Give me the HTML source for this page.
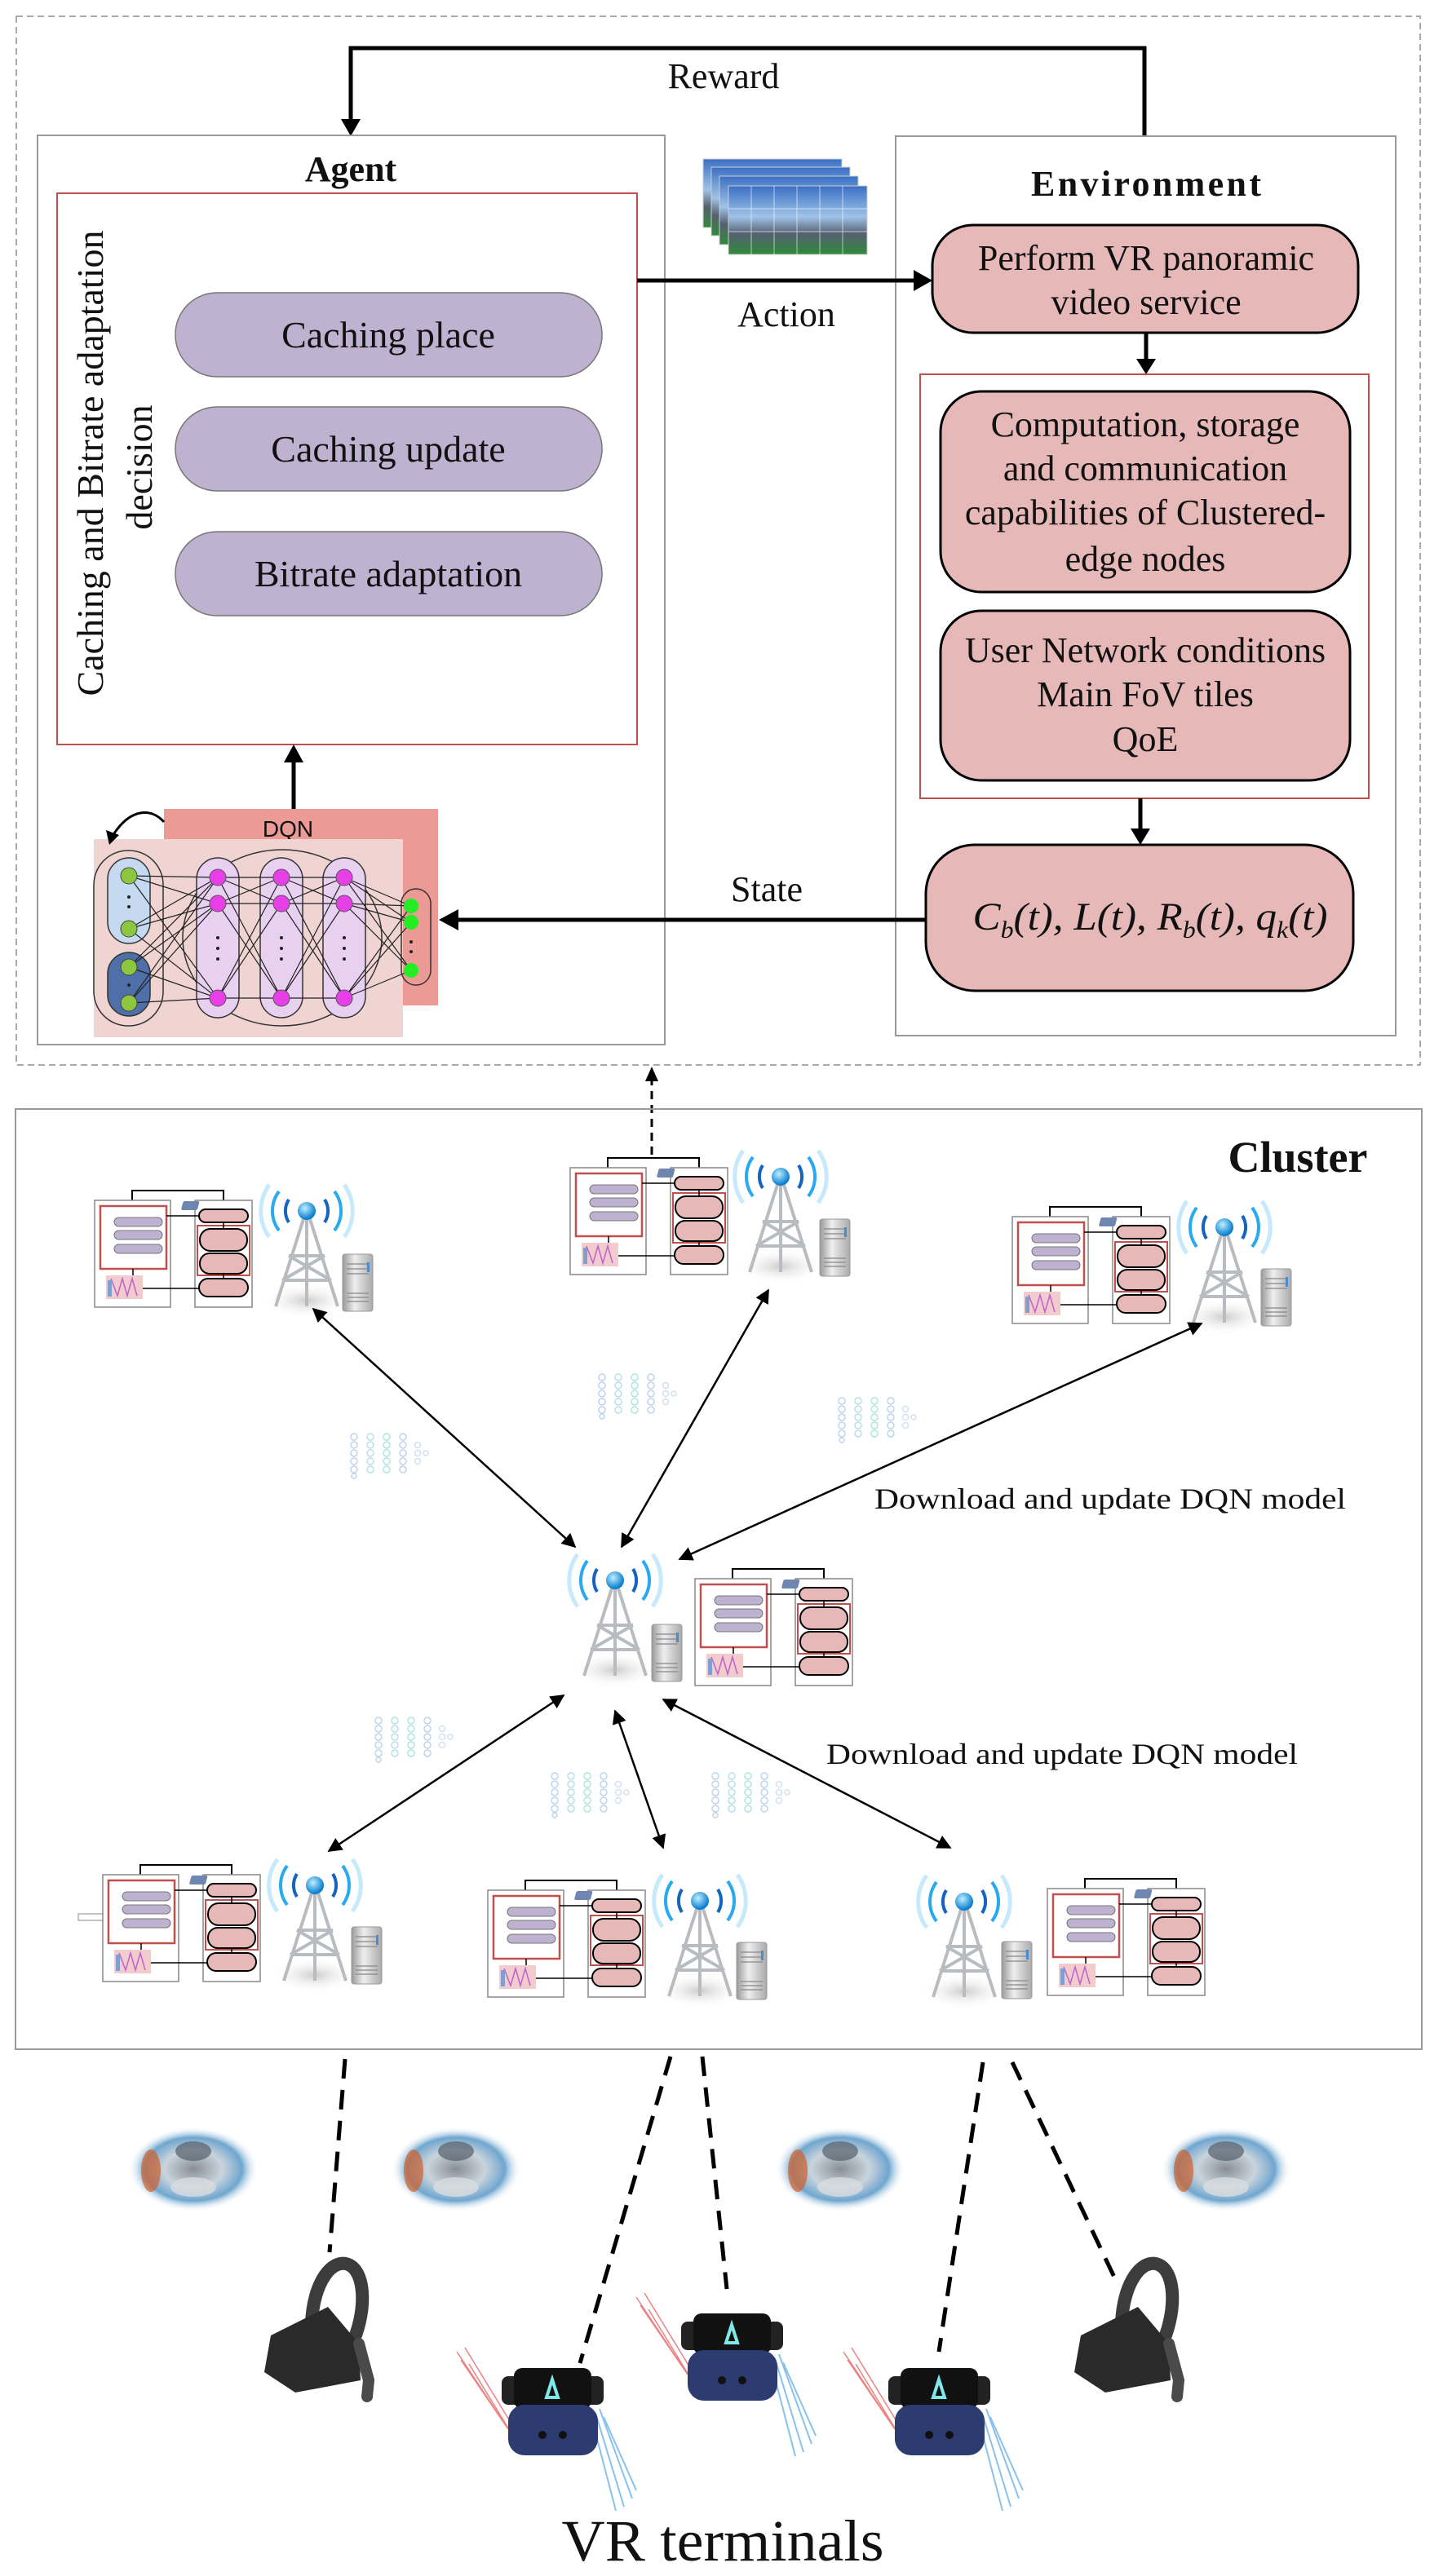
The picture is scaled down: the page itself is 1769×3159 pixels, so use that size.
<!DOCTYPE html>
<html><head><meta charset="utf-8"><style>
html,body{margin:0;padding:0;background:#fff}
svg{display:block}
text{font-family:"Liberation Serif",serif;fill:#111}
</style></head><body>
<svg width="1769" height="3159" viewBox="0 0 1769 3159" xmlns="http://www.w3.org/2000/svg">
<defs>
<marker id="ah2" viewBox="0 0 10 10" refX="9" refY="5" markerWidth="7" markerHeight="7" orient="auto-start-reverse"><path d="M0,0 L10,5 L0,10 z" fill="#000"/></marker>
<radialGradient id="sph" cx="50%" cy="50%" r="50%">
<stop offset="0" stop-color="#8a8f95"/><stop offset="0.45" stop-color="#c9d4dc"/><stop offset="0.75" stop-color="#6fa6cf"/><stop offset="1" stop-color="#ffffff" stop-opacity="0"/>
</radialGradient>
<radialGradient id="ball" cx="40%" cy="35%" r="60%"><stop offset="0" stop-color="#bfefff"/><stop offset="1" stop-color="#0a7fd0"/></radialGradient>
<radialGradient id="fuzz" cx="50%" cy="50%" r="50%"><stop offset="0" stop-color="#ccc"/><stop offset="1" stop-color="#fff" stop-opacity="0"/></radialGradient>
<linearGradient id="srv" x1="0" x2="1"><stop offset="0" stop-color="#999"/><stop offset="0.4" stop-color="#eee"/><stop offset="1" stop-color="#aaa"/></linearGradient>
<linearGradient id="sky" x1="0" y1="0" x2="0" y2="1"><stop offset="0" stop-color="#3a6fc4"/><stop offset="0.45" stop-color="#9fc3e8"/><stop offset="0.7" stop-color="#556070"/><stop offset="1" stop-color="#2f8a3a"/></linearGradient>

<g id="panels">
 <path d="M46,0 V-12 H158 V0" fill="none" stroke="#000" stroke-width="2"/>
 <rect x="0" y="0" width="93" height="131" fill="#fff" stroke="#888" stroke-width="1.5"/>
 <rect x="7" y="7" width="81" height="77" fill="#fff" stroke="#c0504d" stroke-width="2.5"/>
 <rect x="24" y="21" width="59" height="11" rx="5.5" fill="#bfb1d0" stroke="#777"/>
 <rect x="24" y="37" width="59" height="11" rx="5.5" fill="#bfb1d0" stroke="#777"/>
 <rect x="24" y="54" width="59" height="11" rx="5.5" fill="#bfb1d0" stroke="#777"/>
 <line x1="47" y1="84" x2="47" y2="92" stroke="#000" stroke-width="1.5"/>
 <rect x="14" y="92" width="45" height="29" fill="#f2cccc"/>
 <path d="M20,96 L28,117 L34,96 L40,117 L46,96 L52,117" fill="none" stroke="#c060d0" stroke-width="1.5"/>
 <rect x="16" y="98" width="5" height="20" fill="#7f9fd0"/>
 <rect x="123" y="0" width="70" height="131" fill="#fff" stroke="#888" stroke-width="1.5"/>
 <rect x="128" y="11" width="60" height="16" rx="8" fill="#e6b9b8" stroke="#000" stroke-width="2"/>
 <rect x="126" y="31" width="64" height="61" fill="none" stroke="#c0504d" stroke-width="2"/>
 <rect x="129" y="35" width="58" height="27" rx="13" fill="#e6b9b8" stroke="#000" stroke-width="2"/>
 <rect x="129" y="65" width="58" height="25" rx="12" fill="#e6b9b8" stroke="#000" stroke-width="2"/>
 <rect x="128" y="96" width="60" height="22" rx="11" fill="#e6b9b8" stroke="#000" stroke-width="2"/>
 <path d="M88,19 H128 M59,108 H128 M158,27 V35 M158,90 V96" stroke="#000" stroke-width="1.5" fill="none"/>
 <rect x="106" y="1" width="20" height="11" rx="2" fill="#6f86b0" transform="skewX(-15) translate(3,0)"/>
</g>
<g id="tower">
 <ellipse cx="0" cy="110" rx="55" ry="22" fill="url(#fuzz)"/>
 <path d="M-22,-14 A26,26 0 0 0 -22,14 M22,-14 A26,26 0 0 1 22,14" fill="none" stroke="#1565c0" stroke-width="4"/>
 <path d="M-34,-24 A40,40 0 0 0 -34,24 M34,-24 A40,40 0 0 1 34,24" fill="none" stroke="#29a9f0" stroke-width="4"/>
 <path d="M-46,-32 A55,55 0 0 0 -46,32 M46,-32 A55,55 0 0 1 46,32" fill="none" stroke="#aee0fa" stroke-width="5" opacity="0.7"/>
 <path d="M-4,10 L-38,117 M4,10 L38,117 M0,10 L0,117 M-22,55 L22,55 M-30,85 L30,85 M-22,55 L30,85 M22,55 L-30,85" fill="none" stroke="#b8bcc0" stroke-width="4"/>
 <circle cx="0" cy="0" r="11" fill="url(#ball)"/>
</g>
<g id="server">
 <rect x="0" y="0" width="37" height="70" rx="3" fill="url(#srv)" stroke="#999"/>
 <path d="M5,12 H32 M5,18 H32 M5,24 H32 M5,48 H32 M5,53 H32 M5,58 H32" stroke="#888" stroke-width="1.2"/>
 <rect x="30" y="10" width="3" height="12" fill="#4a8ad0"/>
</g>
<g id="nn" opacity="0.55" fill="none" stroke-width="1.5">
 <g stroke="#8ab0e0"><circle cx="5" cy="6" r="4"/><circle cx="5" cy="16" r="4"/><circle cx="5" cy="26" r="4"/><circle cx="5" cy="36" r="4"/><circle cx="5" cy="46" r="4"/><circle cx="5" cy="54" r="3"/></g>
 <g stroke="#7cc8d8"><circle cx="25" cy="6" r="4"/><circle cx="25" cy="16" r="4"/><circle cx="25" cy="26" r="4"/><circle cx="25" cy="36" r="4"/><circle cx="25" cy="46" r="4"/></g>
 <g stroke="#6cd0c0"><circle cx="45" cy="6" r="4"/><circle cx="45" cy="16" r="4"/><circle cx="45" cy="26" r="4"/><circle cx="45" cy="36" r="4"/><circle cx="45" cy="46" r="4"/></g>
 <g stroke="#8ab0e0"><circle cx="65" cy="6" r="4"/><circle cx="65" cy="16" r="4"/><circle cx="65" cy="26" r="4"/><circle cx="65" cy="36" r="4"/><circle cx="65" cy="46" r="4"/></g>
 <g stroke="#b0c8e8"><circle cx="83" cy="16" r="3.5"/><circle cx="83" cy="26" r="3.5"/><circle cx="83" cy="36" r="3.5"/><circle cx="93" cy="26" r="3"/></g>
</g>
<g id="sphere">
 <ellipse cx="0" cy="0" rx="80" ry="52" fill="url(#sph)"/>
 <ellipse cx="-52" cy="2" rx="12" ry="26" fill="#d0602a" opacity="0.7"/>
 <ellipse cx="0" cy="-22" rx="22" ry="12" fill="#55606a" opacity="0.7"/>
 <ellipse cx="0" cy="22" rx="28" ry="12" fill="#d8dce0" opacity="0.8"/>
</g>
<g id="oculus">
 <path d="M60,80 C62,30 85,0 105,8 C125,16 128,60 112,100" fill="none" stroke="#3c3c3c" stroke-width="16" stroke-linecap="round"/>
 <path d="M10,95 L80,60 L118,105 L120,150 L40,165 L2,140 Z" fill="#2a2a2a"/>
 <path d="M118,105 L130,150 L128,170" fill="none" stroke="#4a4a4a" stroke-width="14" stroke-linecap="round"/>
</g>
<g id="vive">
 <path d="M-55,-20 L5,70 M-50,-10 L8,75 M-45,-25 L10,65 M-40,-5 L12,80" stroke="#e03030" stroke-width="1.5" opacity="0.6"/>
 <path d="M115,55 L150,170 M120,50 L160,160 M110,60 L140,175 M125,60 L165,150" stroke="#2a90e0" stroke-width="2" opacity="0.55"/>
 <rect x="0" y="10" width="125" height="35" rx="8" fill="#222"/>
 <rect x="15" y="0" width="95" height="50" rx="10" fill="#111"/>
 <path d="M62,14 L55,36 L69,36 Z" fill="none" stroke="#7fe8e8" stroke-width="4"/>
 <rect x="8" y="45" width="110" height="62" rx="20" fill="#2c3c70"/>
 <circle cx="50" cy="82" r="5" fill="#111"/><circle cx="75" cy="82" r="5" fill="#111"/>
</g>
</defs>

<rect x="20" y="20" width="1721" height="1286" fill="none" stroke="#aaa" stroke-width="2" stroke-dasharray="8 5"/>

<path d="M1403,167 V59 H430 V150" fill="none" stroke="#000" stroke-width="5"/>
<path d="M418,146 L442,146 L430,167 Z" fill="#000"/>
<text x="887" y="108" font-size="44" text-anchor="middle">Reward</text>

<rect x="46" y="166" width="769" height="1115" fill="#fff" stroke="#999" stroke-width="2"/>
<text x="430" y="222" font-size="44" font-weight="bold" text-anchor="middle">Agent</text>
<rect x="70" y="237" width="711" height="676" fill="none" stroke="#c0504d" stroke-width="2"/>
<rect x="215" y="359" width="523" height="103" rx="51" fill="#bfb1d0" stroke="#777" stroke-width="1.5"/>
<rect x="215" y="499" width="523" height="103" rx="51" fill="#bfb1d0" stroke="#777" stroke-width="1.5"/>
<rect x="215" y="652" width="523" height="103" rx="51" fill="#bfb1d0" stroke="#777" stroke-width="1.5"/>
<text x="476" y="426" font-size="46" text-anchor="middle">Caching place</text>
<text x="476" y="566" font-size="46" text-anchor="middle">Caching update</text>
<text x="476" y="719" font-size="46" text-anchor="middle">Bitrate adaptation</text>
<text transform="translate(126,568) rotate(-90)" font-size="46" text-anchor="middle">Caching and Bitrate adaptation</text>
<text transform="translate(186,573) rotate(-90)" font-size="46" text-anchor="middle">decision</text>

<line x1="360" y1="994" x2="360" y2="935" stroke="#000" stroke-width="5"/>
<path d="M348,935 L372,935 L360,913 Z" fill="#000"/>
<rect x="201" y="992" width="336" height="241" fill="#ec9a96"/>
<text x="353" y="1026" font-size="28" text-anchor="middle" style="font-family:'Liberation Sans',sans-serif">DQN</text>
<rect x="115" y="1029" width="379" height="243" fill="#f0d4d2"/>
<path d="M201,1008 C185,990 160,992 140,1022" fill="none" stroke="#000" stroke-width="3"/>
<path d="M130,1018 L146,1024 L134,1036 Z" fill="#000"/>
<rect x="115" y="1043" width="85" height="215" rx="42" fill="none" stroke="#333" stroke-width="1.5"/>
<rect x="132" y="1052" width="52" height="105" rx="26" fill="#c5d9f1" stroke="#333" stroke-width="1.5"/>
<rect x="132" y="1168" width="52" height="78" rx="26" fill="#4f6fa8" stroke="#333" stroke-width="1.5"/>
<ellipse cx="346" cy="1150" rx="122" ry="108" fill="none" stroke="#333" stroke-width="1.5"/>
<rect x="241" y="1052" width="52" height="196" rx="26" fill="#e8d0f0" stroke="#333" stroke-width="1.5"/>
<rect x="319" y="1052" width="52" height="196" rx="26" fill="#e8d0f0" stroke="#333" stroke-width="1.5"/>
<rect x="396" y="1052" width="52" height="196" rx="26" fill="#e8d0f0" stroke="#333" stroke-width="1.5"/>
<rect x="492" y="1090" width="36" height="118" rx="18" fill="none" stroke="#333" stroke-width="1.5"/>
<path d="M158 1074L267 1076M158 1074L267 1108M158 1074L267 1224M158 1139L267 1076M158 1139L267 1108M158 1139L267 1224M158 1186L267 1076M158 1186L267 1108M158 1186L267 1224M158 1230L267 1076M158 1230L267 1108M158 1230L267 1224
M267 1076L345 1076M267 1076L345 1108M267 1076L345 1224M267 1108L345 1076M267 1108L345 1108M267 1108L345 1224M267 1224L345 1076M267 1224L345 1108M267 1224L345 1224
M345 1076L422 1076M345 1076L422 1108M345 1076L422 1224M345 1108L422 1076M345 1108L422 1108M345 1108L422 1224M345 1224L422 1076M345 1224L422 1108M345 1224L422 1224
M422 1076L504 1111M422 1076L504 1131M422 1076L504 1190M422 1108L504 1111M422 1108L504 1131M422 1108L504 1190M422 1224L504 1111M422 1224L504 1131M422 1224L504 1190" stroke="#222" stroke-width="1.2" fill="none"/>
<g fill="#8dc63f" stroke="#444"><circle cx="158" cy="1074" r="10"/><circle cx="158" cy="1139" r="10"/><circle cx="158" cy="1186" r="10"/><circle cx="158" cy="1230" r="10"/></g>
<g fill="#e83ee8" stroke="#555"><circle cx="267" cy="1076" r="10"/><circle cx="267" cy="1108" r="10"/><circle cx="267" cy="1224" r="10"/><circle cx="345" cy="1076" r="10"/><circle cx="345" cy="1108" r="10"/><circle cx="345" cy="1224" r="10"/><circle cx="422" cy="1076" r="10"/><circle cx="422" cy="1108" r="10"/><circle cx="422" cy="1224" r="10"/></g>
<g fill="#22ee22"><circle cx="504" cy="1111" r="9"/><circle cx="504" cy="1131" r="9"/><circle cx="504" cy="1190" r="9"/></g>
<g fill="#222"><circle cx="158" cy="1100" r="2"/><circle cx="158" cy="1112" r="2"/><circle cx="158" cy="1208" r="2"/><circle cx="267" cy="1150" r="2"/><circle cx="267" cy="1163" r="2"/><circle cx="267" cy="1176" r="2"/><circle cx="345" cy="1150" r="2"/><circle cx="345" cy="1163" r="2"/><circle cx="345" cy="1176" r="2"/><circle cx="422" cy="1150" r="2"/><circle cx="422" cy="1163" r="2"/><circle cx="422" cy="1176" r="2"/><circle cx="504" cy="1155" r="2"/><circle cx="504" cy="1167" r="2"/></g>

<text x="964" y="400" font-size="44" text-anchor="middle">Action</text>
<g>
<rect x="862" y="195" width="170" height="84" fill="url(#sky)" stroke="#ccc"/>
<rect x="872" y="205" width="170" height="84" fill="url(#sky)" stroke="#ccc"/>
<rect x="882" y="216" width="170" height="84" fill="url(#sky)" stroke="#ccc"/>
<rect x="893" y="228" width="170" height="84" fill="url(#sky)" stroke="#ccc"/>
<path d="M921,228 V312 M949,228 V312 M977,228 V312 M1005,228 V312 M1033,228 V312 M893,256 H1063 M893,284 H1063" stroke="#fff" stroke-width="1" opacity="0.6"/>
</g>

<rect x="1098" y="167" width="613" height="1103" fill="#fff" stroke="#999" stroke-width="2"/>
<text x="1405" y="240" font-size="44" font-weight="bold" text-anchor="middle" textLength="282" lengthAdjust="spacing">Environment</text>
<rect x="1143" y="276" width="522" height="132" rx="50" fill="#e6b9b8" stroke="#000" stroke-width="3"/>
<text x="1405" y="331" font-size="44" text-anchor="middle">Perform VR panoramic</text>
<text x="1405" y="385" font-size="44" text-anchor="middle">video service</text>
<line x1="1405" y1="408" x2="1405" y2="442" stroke="#000" stroke-width="5"/>
<path d="M1393,440 L1417,440 L1405,459 Z" fill="#000"/>
<rect x="1128" y="459" width="550" height="520" fill="none" stroke="#c0504d" stroke-width="2"/>
<rect x="1153" y="480" width="502" height="246" rx="50" fill="#e6b9b8" stroke="#000" stroke-width="3"/>
<text x="1404" y="535" font-size="44" text-anchor="middle">Computation, storage</text>
<text x="1404" y="589" font-size="44" text-anchor="middle">and communication</text>
<text x="1404" y="643" font-size="44" text-anchor="middle">capabilities of Clustered-</text>
<text x="1404" y="700" font-size="44" text-anchor="middle">edge nodes</text>
<rect x="1153" y="749" width="502" height="208" rx="50" fill="#e6b9b8" stroke="#000" stroke-width="3"/>
<text x="1404" y="812" font-size="44" text-anchor="middle">User Network conditions</text>
<text x="1404" y="866" font-size="44" text-anchor="middle">Main FoV tiles</text>
<text x="1404" y="921" font-size="44" text-anchor="middle">QoE</text>
<line x1="1398" y1="979" x2="1398" y2="1018" stroke="#000" stroke-width="5"/>
<path d="M1386,1016 L1410,1016 L1398,1036 Z" fill="#000"/>
<rect x="1135" y="1036" width="524" height="179" rx="60" fill="#e6b9b8" stroke="#000" stroke-width="3"/>
<text x="1410" y="1140" font-size="48" text-anchor="middle" font-style="italic" textLength="435" lengthAdjust="spacingAndGlyphs">C<tspan font-size="30" dy="10">b</tspan><tspan dy="-10">(t), L(t), R</tspan><tspan font-size="30" dy="10">b</tspan><tspan dy="-10">(t), q</tspan><tspan font-size="30" dy="10">k</tspan><tspan dy="-10">(t)</tspan></text>

<!-- Action arrow (drawn after env) -->
<line x1="781" y1="344" x2="1122" y2="344" stroke="#000" stroke-width="5"/>
<path d="M1120,331 L1143,344 L1120,357 Z" fill="#000"/>

<line x1="1135" y1="1128" x2="560" y2="1128" stroke="#000" stroke-width="5"/>
<path d="M562,1115 L538,1128 L562,1141 Z" fill="#000"/>
<text x="940" y="1105" font-size="44" text-anchor="middle">State</text>

<line x1="799" y1="1416" x2="799" y2="1325" stroke="#000" stroke-width="3" stroke-dasharray="10 7"/>
<path d="M791,1326 L807,1326 L799,1308 Z" fill="#000"/>
<rect x="19" y="1360" width="1724" height="1153" fill="none" stroke="#999" stroke-width="2"/>
<text x="1591" y="1437" font-size="54" font-weight="bold" text-anchor="middle">Cluster</text>

<use href="#panels" x="116" y="1472"/><use href="#tower" x="376" y="1485"/><use href="#server" x="420" y="1538"/>
<use href="#panels" x="699" y="1432"/><use href="#tower" x="957" y="1443"/><use href="#server" x="1005" y="1495"/>
<use href="#panels" x="1241" y="1492"/><use href="#tower" x="1501" y="1505"/><use href="#server" x="1546" y="1556"/>
<use href="#tower" x="754" y="1938"/><use href="#server" x="799" y="1992"/><use href="#panels" x="852" y="1936"/>
<rect x="96" y="2347" width="30" height="8" fill="#fff" stroke="#888"/>
<use href="#panels" x="126" y="2299"/><use href="#tower" x="386" y="2312"/><use href="#server" x="431" y="2363"/>
<use href="#panels" x="598" y="2318"/><use href="#tower" x="858" y="2331"/><use href="#server" x="903" y="2382"/>
<use href="#tower" x="1182" y="2332"/><use href="#server" x="1228" y="2381"/><use href="#panels" x="1284" y="2316"/>

<use href="#nn" x="429" y="1756"/><use href="#nn" x="733" y="1683"/><use href="#nn" x="1027" y="1712"/>
<use href="#nn" x="459" y="2104"/><use href="#nn" x="675" y="2172"/><use href="#nn" x="872" y="2172"/>

<g stroke="#000" stroke-width="2.5" marker-start="url(#ah2)" marker-end="url(#ah2)">
<line x1="384" y1="1605" x2="705" y2="1897"/>
<line x1="942" y1="1582" x2="762" y2="1897"/>
<line x1="1473" y1="1623" x2="833" y2="1912"/>
<line x1="691" y1="2079" x2="403" y2="2270"/>
<line x1="754" y1="2098" x2="813" y2="2266"/>
<line x1="813" y1="2084" x2="1165" y2="2266"/>
</g>
<text x="1072" y="1850" font-size="36" textLength="578" lengthAdjust="spacingAndGlyphs">Download and update DQN model</text>
<text x="1013" y="2163" font-size="36" textLength="578" lengthAdjust="spacingAndGlyphs">Download and update DQN model</text>

<g stroke="#000" stroke-width="5" stroke-dasharray="24 14" fill="none">
<line x1="423" y1="2525" x2="404" y2="2762"/>
<line x1="822" y1="2522" x2="711" y2="2898"/>
<line x1="861" y1="2522" x2="891" y2="2807"/>
<line x1="1205" y1="2529" x2="1151" y2="2884"/>
<line x1="1241" y1="2529" x2="1371" y2="2803"/>
</g>

<use href="#sphere" x="237" y="2660"/><use href="#sphere" x="559" y="2660"/><use href="#sphere" x="1030" y="2660"/><use href="#sphere" x="1503" y="2660"/>

<use href="#oculus" x="322" y="2769"/><use href="#oculus" x="1315" y="2769"/>
<use href="#vive" x="615" y="2904"/><use href="#vive" x="835" y="2837"/><use href="#vive" x="1089" y="2904"/>

<text x="886" y="3140" font-size="72" text-anchor="middle" textLength="395" lengthAdjust="spacingAndGlyphs">VR terminals</text>
</svg>
</body></html>
